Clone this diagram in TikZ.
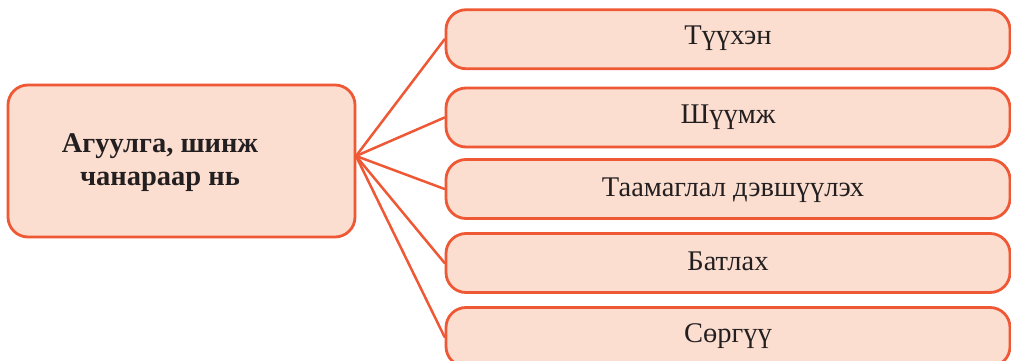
\documentclass[tikz,border=0pt]{standalone}
\usepackage{fontspec}
\setmainfont{Liberation Serif}
\definecolor{edge}{RGB}{238,88,52}
\definecolor{boxfill}{RGB}{252,222,208}
\definecolor{ink}{RGB}{35,31,32}
\begin{document}
\begin{tikzpicture}[x=1pt,y=1pt,
  box/.style={draw=edge,fill=boxfill,line width=2.8pt,rounded corners=20pt,inner sep=0pt},
  conn/.style={draw=edge,line width=2.5pt},
  lbl/.style={font=\fontsize{28.5}{33}\selectfont,text=ink,anchor=base,inner sep=0pt}]
\useasboundingbox (0,0) rectangle (1011,361);
\clip (0,0) rectangle (1011,361);
\node[box,minimum width=347pt,minimum height=152pt] (hub) at (181.5,200) {};
\node[font=\fontsize{28.5}{33}\selectfont\bfseries,text=ink,align=center,inner sep=0pt] (hubtext) at (160,198) {Агуулга, шинж\\чанараар нь};
\node[box,minimum width=564pt,minimum height=59pt] (b1) at (728,321.75) {};
\node[box,minimum width=564pt,minimum height=59pt] (b2) at (728,243.5) {};
\node[box,minimum width=564pt,minimum height=59pt] (b3) at (728,172) {};
\node[box,minimum width=564pt,minimum height=59pt] (b4) at (728,98) {};
\node[box,minimum width=564pt,minimum height=59pt] (b5) at (728,24) {};
\node[lbl] (t1) at (728,316) {Түүхэн};
\node[lbl] (t2) at (728,237) {Шүүмж};
\node[lbl] (t3) at (733,164) {Таамаглал дэвшүүлэх};
\node[lbl] (t4) at (728,90) {Батлах};
\node[lbl] (t5) at (728,18) {Сөргүү};
\coordinate (hubpt) at (356,205);
\foreach \b in {b1,b2,b3,b4,b5} {
  \draw[conn,line cap=round] (hubpt) -- (\b.west);
}
\end{tikzpicture}
\end{document}
